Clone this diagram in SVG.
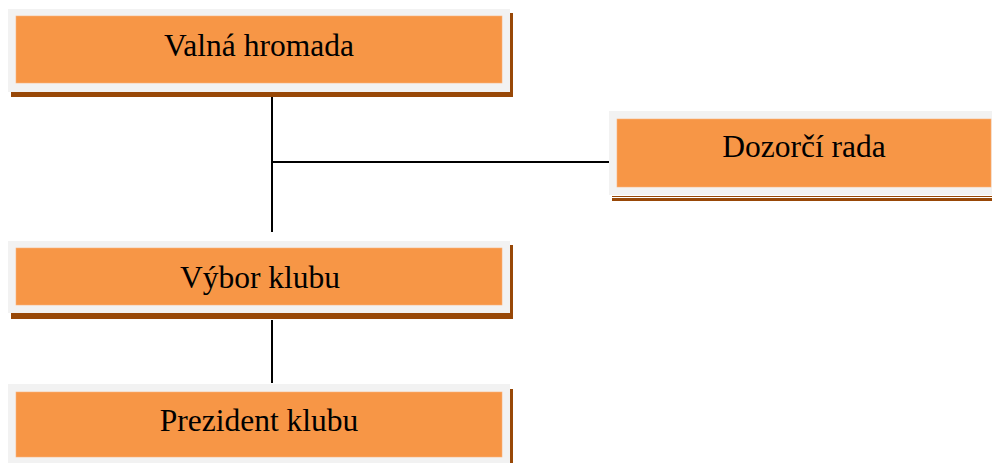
<svg xmlns="http://www.w3.org/2000/svg" width="992" height="463" viewBox="0 0 992 463">
<style>
.sh{fill:#984807}
.fr{fill:#f2f2f2}
.bx{fill:#f79646;stroke:#fbb27a;stroke-width:0.6}
.t{font-family:"Liberation Serif","Times New Roman",serif;font-size:31.5px;fill:#000;text-anchor:middle}
.c{stroke:#000;stroke-width:2;fill:none}
</style>
<rect width="992" height="463" fill="#fff"/>
<g id="connectors">
<line class="c" x1="272" y1="94" x2="272" y2="232"/>
<line class="c" x1="272" y1="162" x2="609" y2="162"/>
<line class="c" x1="272" y1="320" x2="272" y2="383"/>
</g>
<g id="valna-hromada">
<rect class="sh" x="11" y="13" width="502" height="84"/>
<rect class="fr" x="8" y="9" width="502" height="83"/>
<rect class="bx" x="16" y="16" width="486" height="67"/>
<text class="t" x="259" y="56">Valná hromada</text>
</g>
<g id="dozorci-rada">
<rect class="sh" x="612" y="196" width="380" height="1"/>
<rect class="sh" x="612" y="198" width="380" height="3"/>
<rect class="fr" x="609" y="111" width="383" height="84"/>
<rect class="bx" x="617" y="119" width="374" height="68"/>
<text class="t" x="804" y="157">Dozorčí rada</text>
</g>
<g id="vybor-klubu">
<rect class="sh" x="11" y="245" width="502" height="74"/>
<rect class="fr" x="8" y="241" width="502" height="72"/>
<rect class="bx" x="16" y="248" width="486" height="57"/>
<text class="t" x="260" y="288">Výbor klubu</text>
</g>
<g id="prezident-klubu">
<rect class="sh" x="11" y="389" width="502" height="74"/>
<rect class="fr" x="8" y="384" width="502" height="79"/>
<rect class="bx" x="16" y="392" width="486" height="65"/>
<text class="t" x="259" y="431">Prezident klubu</text>
</g>
</svg>
